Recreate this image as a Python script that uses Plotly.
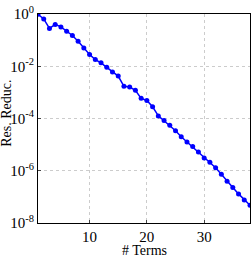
import plotly.graph_objects as go

terms = list(range(1, 39))
res_reduc = [9.7e-1, 6.5e-1, 2.8e-1, 4.0e-1, 3.2e-1, 2.2e-1, 1.5e-1, 9.1e-2, 5.0e-2, 2.8e-2,
             1.8e-2, 1.35e-2, 9.1e-3, 6.0e-3, 4.2e-3, 1.7e-3, 1.6e-3, 1.2e-3, 5.9e-4, 4.9e-4,
             2.8e-4, 1.26e-4, 8.3e-5, 5.5e-5, 3.4e-5, 2.0e-5, 1.26e-5, 8.5e-6, 5.2e-6, 3.1e-6,
             2.1e-6, 1.3e-6, 7.4e-7, 4.0e-7, 2.3e-7, 1.3e-7, 7.6e-8, 4.8e-8]
y_tickvals = [1e0, 1e-2, 1e-4, 1e-6, 1e-8]
y_ticktext = ["10<sup>0</sup>", "10<sup>-2</sup>", "10<sup>-4</sup>", "10<sup>-6</sup>", "10<sup>-8</sup>"]
x_tickvals = [10, 20, 30]
x_title = "# Terms"
y_title = "Res. Reduc."

yfont = dict(family="Liberation Serif", size=15, color="black")
xfont = dict(family="Liberation Serif", size=15, color="black")
title_font = dict(family="Liberation Serif", size=14, color="black")

fig = go.Figure(go.Scatter(
    x=terms, y=res_reduc, mode="lines+markers",
    line=dict(color="#0000ff", width=1.5),
    marker=dict(color="#0000ff", size=5),
))

fig.update_layout(
    width=251, height=257,
    margin=dict(l=38, r=1, t=14, b=34),
    paper_bgcolor="white", plot_bgcolor="white",
    showlegend=False, font=yfont,
    annotations=[
        dict(text=x_title, xref="paper", yref="paper", x=0.5, y=-0.086,
             xanchor="center", yanchor="top", showarrow=False, font=title_font),
        dict(text=y_title, xref="paper", yref="paper", x=-0.197, y=0.526,
             xanchor="left", yanchor="middle", textangle=-90, showarrow=False, font=title_font),
    ],
)
fig.update_xaxes(
    range=[1, 38], tickvals=x_tickvals, ticks="inside", ticklen=3,
    showline=True, linecolor="black", linewidth=1, mirror=True,
    showgrid=True, gridcolor="#cccccc", griddash="dot", gridwidth=1,
    zeroline=False, tickfont=xfont, ticklabelstandoff=0,
)
fig.update_yaxes(
    type="log", range=[-8, 0], tickvals=y_tickvals, ticktext=y_ticktext,
    ticks="inside", ticklen=3,
    showline=True, linecolor="black", linewidth=1, mirror=True,
    showgrid=True, gridcolor="#cccccc", griddash="dot", gridwidth=1,
    zeroline=False, tickfont=yfont, ticklabelstandoff=0,
)

fig.write_html("out.html")
